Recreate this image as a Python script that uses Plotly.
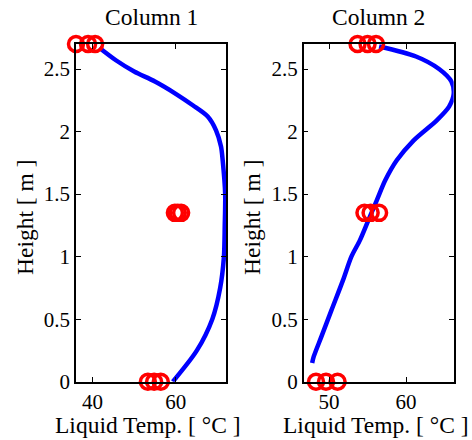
import plotly.graph_objects as go

# Column 1 profile (height m, liquid temp °C)
h1 = [2.67, 2.57, 2.48, 2.40, 2.30, 2.21, 2.12, 2.01, 1.88, 1.77, 1.5, 1.25, 1.0, 0.75, 0.5, 0.25, 0.0]
t1 = [41.6, 45.6, 50.0, 55.0, 60.1, 64.1, 67.7, 69.7, 70.9, 71.3, 71.9, 71.8, 71.6, 70.7, 68.8, 65.1, 59.3]
# Column 1 measurements
mh1 = [2.7, 2.7, 2.7, 1.35, 1.35, 1.35, 0.0, 0.0, 0.0]
mt1 = [36.0, 38.9, 40.6, 59.8, 60.5, 61.3, 53.3, 54.8, 56.4]

# Column 2 profile
h2 = [2.68, 2.6, 2.5, 2.4, 2.3, 2.2, 2.09, 1.93, 1.77, 1.61, 1.45, 1.29, 1.13, 1.0, 0.81, 0.57, 0.36, 0.2, 0.15]
t2 = [56.5, 61.3, 64.3, 65.9, 66.2, 65.6, 64.0, 61.0, 58.8, 57.3, 56.2, 55.1, 54.0, 52.9, 51.8, 50.3, 49.0, 48.0, 47.8]
mh2 = [2.7, 2.7, 2.7, 1.35, 1.35, 1.35, 0.0, 0.0, 0.0]
mt2 = [53.7, 55.0, 56.1, 54.6, 55.4, 56.5, 48.3, 49.6, 51.1]

titles = ["Column 1", "Column 2"]
xranges = [[36, 72.1], [46.7, 66.2]]
xticks = [[40, 60], [50, 60]]
yticks = [0, 0.5, 1, 1.5, 2, 2.5]

FONT = "Liberation Serif"
FT = 21   # tick labels
FL = 23.5 # titles
fig = go.Figure()
for i, (h, t, mh, mt) in enumerate([(h1, t1, mh1, mt1), (h2, t2, mh2, mt2)]):
    xa = "x" if i == 0 else "x2"
    ya = "y" if i == 0 else "y2"
    fig.add_trace(go.Scatter(x=t, y=h, mode="lines", line=dict(color="#0000ff", width=4.5, shape="spline", smoothing=0.8),
                             xaxis=xa, yaxis=ya, showlegend=False))
    fig.add_trace(go.Scatter(x=mt, y=mh, mode="markers",
                             marker=dict(symbol="circle-open", color="#ff0000", size=15, line=dict(width=3.5, color="#ff0000")),
                             xaxis=xa, yaxis=ya, showlegend=False, cliponaxis=False))

doms = [[76/472, 226/472], [303.7/472, 453.7/472]]
ydom = [1 - 381.7/440, 1 - 44/440]
axis_common = dict(showgrid=False, zeroline=False, showline=True, linecolor="black", linewidth=1.5,
                   mirror="ticks", ticks="inside", ticklen=5, tickcolor="black", automargin=False,
                   tickfont=dict(family=FONT, size=FT, color="black"))
ytitle_x = [25, 252]
for i in range(2):
    sfx = "" if i == 0 else "2"
    fig.update_layout(**{
        "xaxis" + sfx: dict(domain=doms[i], range=xranges[i], tickvals=xticks[i], anchor="y" + sfx, **axis_common),
        "yaxis" + sfx: dict(domain=ydom, range=[0, 2.7], tickvals=yticks, anchor="x" + sfx,
                            ticktext=["0", "0.5", "1", "1.5", "2", "2.5"], **axis_common),
    })
    cx = (doms[i][0] + doms[i][1]) / 2
    fig.add_annotation(text=titles[i], x=cx, y=1 - 17/440, xref="paper", yref="paper",
                       showarrow=False, font=dict(family=FONT, size=FL, color="black"), xanchor="center", yanchor="middle")
    fig.add_annotation(text="Liquid Temp. [ °C ]", x=cx - 3/472, y=1 - 425/440, xref="paper", yref="paper",
                       showarrow=False, font=dict(family=FONT, size=FL, color="black"), xanchor="center", yanchor="middle")
    fig.add_annotation(text="Height [ m ]", x=ytitle_x[i]/472, y=1 - 217/440, xref="paper", yref="paper",
                       textangle=-90, showarrow=False, font=dict(family=FONT, size=FL, color="black"),
                       xanchor="center", yanchor="middle")

fig.update_layout(width=472, height=440, margin=dict(l=0, r=0, t=0, b=0),
                  plot_bgcolor="white", paper_bgcolor="white")
fig.write_html("out.html")
